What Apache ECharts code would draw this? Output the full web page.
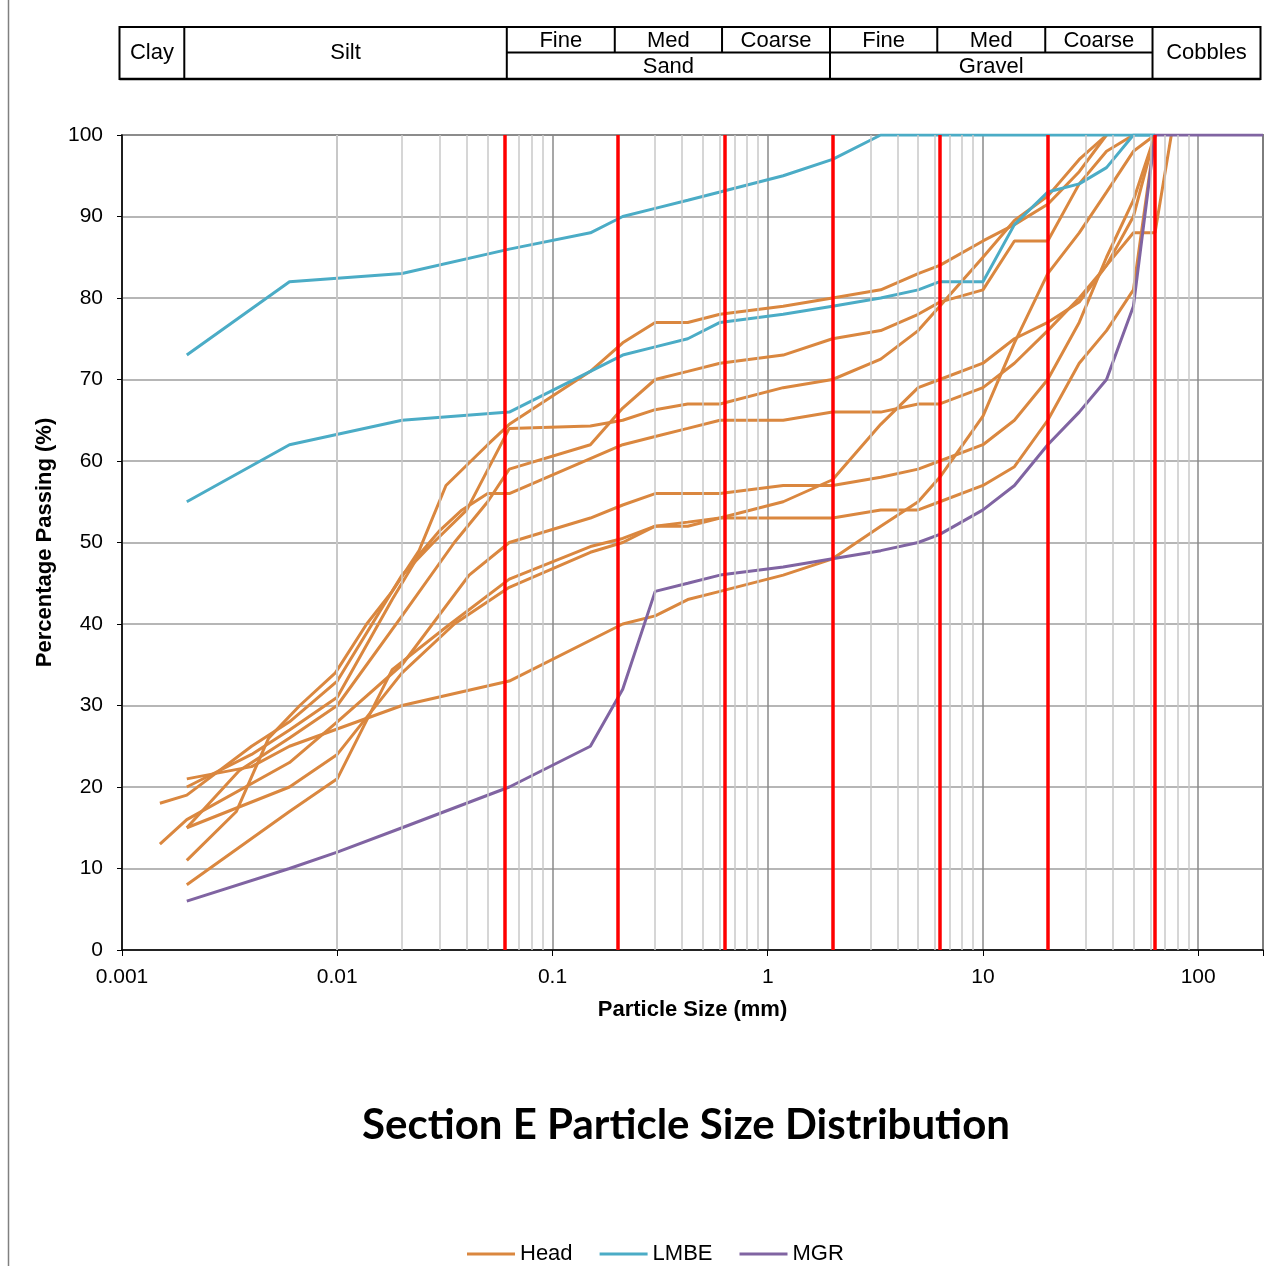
<!DOCTYPE html>
<html>
<head>
<meta charset="utf-8">
<script src="https://cdn.jsdelivr.net/npm/echarts@6/dist/echarts.min.js"></script>
<style>
  html, body { margin: 0; padding: 0; background: #fff; }
  #chart { width: 1279px; height: 1266px; }
</style>
</head>
<body>
<div id="chart"></div>
<script>
// particle size (mm) vs % passing, one array per test
const head1 = [[0.002,11],[0.0034,17],[0.0048,26],[0.0067,30],[0.0098,34],[0.0137,40],[0.018,44],[0.024,49],[0.032,57],[0.05,62],[0.063,64.5],[0.15,71],[0.212,74.5],[0.3,77],[0.425,77],[0.6,78],[1.18,79],[2,80],[3.35,81],[5,83],[6.3,84],[10,87],[14,89],[20,91.5],[28,95.5],[37.5,100]];
const head2 = [[0.002,15],[0.0035,22],[0.006,26],[0.01,30],[0.02,41],[0.035,50],[0.05,55],[0.063,59],[0.15,62],[0.212,66.5],[0.3,70],[0.425,71],[0.6,72],[1.18,73],[2,75],[3.35,76],[5,78],[6.3,79.5],[10,81],[14,87],[20,87],[28,94],[37.5,98],[50,100]];
const head3 = [[0.0015,18],[0.002,19],[0.004,25],[0.006,28],[0.01,33],[0.02,46],[0.028,50],[0.04,54],[0.063,64],[0.15,64.3],[0.212,65],[0.3,66.3],[0.425,67],[0.6,67],[1.18,69],[2,70],[3.35,72.5],[5,76],[6.3,79],[10,85],[14,89.5],[20,92.5],[28,97],[37.5,100]];
const head4 = [[0.002,20],[0.004,24],[0.006,27],[0.01,31],[0.018,43],[0.024,48.5],[0.03,51.5],[0.038,54],[0.05,56],[0.063,56],[0.212,62],[0.3,63],[0.425,64],[0.6,65],[1.18,65],[2,66],[3.35,66],[5,67],[6.3,67],[10,69],[14,72],[20,76],[28,80],[37.5,84],[50,88],[63,88],[75,100]];
const head5 = [[0.0015,13],[0.002,16],[0.006,23],[0.01,28],[0.02,35],[0.041,46],[0.063,50],[0.15,53],[0.212,54.6],[0.3,56],[0.425,56],[0.6,56],[1.18,57],[2,57],[3.35,58],[5,59],[6.3,60],[10,62],[14,65],[20,70],[28,77],[37.5,85],[50,92],[63,100]];
const head6 = [[0.002,8],[0.006,17],[0.01,21],[0.018,34.4],[0.032,39.6],[0.063,45.5],[0.15,49.5],[0.212,50.5],[0.3,52],[0.425,52.5],[0.6,53],[1.18,53],[2,53],[3.35,54],[5,54],[6.3,55],[10,57],[14,59.3],[20,65],[28,72],[37.5,76],[50,81],[63,100]];
const head7 = [[0.002,15],[0.006,20],[0.01,24],[0.02,34],[0.035,40],[0.063,44.5],[0.15,48.8],[0.212,50],[0.3,52],[0.425,52],[0.6,53],[1.18,55],[2,57.7],[3.35,64.5],[5,69],[6.3,70],[10,72],[14,75],[20,77],[28,79.5],[37.5,84],[50,90],[63,100]];
const head8 = [[0.002,21],[0.004,22.5],[0.006,25],[0.02,30],[0.063,33],[0.212,40],[0.3,41],[0.425,43],[0.6,44],[1.18,46],[2,48],[3.35,52],[5,55],[6.3,58],[10,65.5],[14,74.5],[20,83],[28,88],[37.5,93],[50,98],[63,100]];
const lmbe1 = [[0.002,73],[0.006,82],[0.02,83],[0.063,86],[0.15,88],[0.212,90],[0.3,91],[0.425,92],[0.6,93],[1.18,95],[2,97],[3.35,100],[63,100]];
const lmbe2 = [[0.002,55],[0.006,62],[0.02,65],[0.063,66],[0.15,71],[0.212,73],[0.3,74],[0.425,75],[0.6,77],[1.18,78],[2,79],[3.35,80],[5,81],[6.3,82],[10,82],[14,89],[20,93],[28,94],[37.5,96],[50,100],[63,100]];
const mgr = [[0.002,6],[0.006,10],[0.01,12],[0.02,15],[0.063,20],[0.15,25],[0.212,32],[0.3,44],[0.425,45],[0.6,46],[1.18,47],[2,48],[3.35,49],[5,50],[6.3,51],[10,54],[14,57],[20,62],[28,66],[37.5,70],[50,79],[63,100],[75,100],[200,100]];

const headRuns = [head1, head2, head3, head4, head5, head6, head7, head8];
const lmbeRuns = [lmbe1, lmbe2];
const mgrRuns = [mgr];

// BS 5930 size boundaries and header labels
const boundaries = [0.002, 0.063, 0.2, 0.63, 2, 6.3, 20, 63];
const bandSingle = [['Clay', 0.001, 0.002], ['Silt', 0.002, 0.063], ['Cobbles', 63, 200]];
const bandGroup = [['Sand', 0.063, 2], ['Gravel', 2, 63]];
const bandSub = [['Fine', 0.063, 0.2], ['Med', 0.2, 0.63], ['Coarse', 0.63, 2],
                 ['Fine', 2, 6.3], ['Med', 6.3, 20], ['Coarse', 20, 63]];
const xTickLabels = ['0.001', '0.01', '0.1', '1', '10', '100'];

const COLORS = { Head: '#DA873F', LMBE: '#4BACC6', MGR: '#8064A2' };
const FONT = '"Liberation Sans", Arial, sans-serif';

// light minor lines at 2..9 of every decade
const minorX = [];
for (let d = 0.001; d < 100; d *= 10) {
  for (let k = 2; k <= 9; k++) minorX.push(+(k * d).toPrecision(3));
}

function runSeries(name, runs) {
  return runs.map(r => ({
    name, type: 'line', data: r, z: 3,
    showSymbol: false, symbol: 'none',
    lineStyle: { color: COLORS[name], width: 3 },
    itemStyle: { color: COLORS[name] },
    emphasis: { disabled: true },
  }));
}

const chart = echarts.init(document.getElementById('chart'), null, { renderer: 'canvas' });

const option = {
  animation: false,
  backgroundColor: '#fff',
  grid: {
    left: 122, top: 135, width: 1141, height: 815,
    show: true, borderColor: '#202020', borderWidth: 1.5,
    outerBoundsMode: 'none',
  },
  xAxis: {
    type: 'log', logBase: 10, min: 0.001, max: 200,
    name: 'Particle Size (mm)', nameLocation: 'middle', nameGap: 49,
    nameTextStyle: { fontSize: 22, fontWeight: 'bold', fontFamily: FONT, color: '#000' },
    axisLine: { show: true, lineStyle: { color: '#000', width: 1.5 } },
    axisTick: { show: true, length: 6, lineStyle: { color: '#000' } },
    axisLabel: {
      margin: 17, fontSize: 21, fontFamily: FONT, color: '#000',
      formatter: v => xTickLabels.find(s => Math.abs(parseFloat(s) - v) / v < 1e-6) || '',
    },
    splitLine: { show: true, lineStyle: { color: '#8a8a8a', width: 1.5 } },
  },
  yAxis: {
    type: 'value', min: 0, max: 100, interval: 10,
    name: 'Percentage Passing (%)', nameLocation: 'middle', nameGap: 66, nameRotate: 90,
    nameTextStyle: { fontSize: 22, fontWeight: 'bold', fontFamily: FONT, color: '#000' },
    axisLine: { show: true, lineStyle: { color: '#000', width: 1.5 } },
    axisTick: { show: true, length: 5, lineStyle: { color: '#000' } },
    axisLabel: { margin: 19, fontSize: 21, fontFamily: FONT, color: '#000' },
    splitLine: { show: true, lineStyle: { color: '#9e9e9e', width: 1.5 } },
  },
  legend: {
    data: ['Head', 'LMBE', 'MGR'],
    left: 467, top: 1243, padding: 0,
    icon: 'rect', itemWidth: 48, itemHeight: 3, itemGap: 27,
    textStyle: { fontSize: 22, fontFamily: FONT, color: '#000' },
  },
  series: [
    {
      name: 'minor', type: 'line', data: [], silent: true, z: 1,
      markLine: {
        silent: true, symbol: ['none', 'none'], label: { show: false },
        lineStyle: { color: '#c8c8c8', width: 1.5, type: 'solid' },
        emphasis: { disabled: true },
        data: minorX.map(v => ({ xAxis: v })),
      },
    },
    ...runSeries('Head', headRuns),
    ...runSeries('LMBE', lmbeRuns),
    ...runSeries('MGR', mgrRuns),
    {
      name: 'bounds', type: 'line', data: [], silent: true, z: 6,
      markLine: {
        silent: true, symbol: ['none', 'none'], label: { show: false },
        lineStyle: { color: '#ff0000', width: 3.5, type: 'solid' },
        emphasis: { disabled: true },
        data: boundaries.map(v => ({ xAxis: v })),
      },
    },
  ],
};

chart.setOption(option);

// header table sits on the same x scale as the plot
const edge = v => chart.convertToPixel({ xAxisIndex: 0 }, v) - 2.5;
const T0 = 27, TM = 52.5, T1 = 79;
const line = (x1, y1, x2, y2, w) => ({
  type: 'line', z: 10,
  shape: { x1, y1, x2, y2 },
  style: { stroke: '#000', lineWidth: w || 2 },
});
const label = (text, x, y) => ({
  type: 'text', z: 11,
  x, y,
  style: { text, fill: '#000', font: '22px ' + FONT, align: 'center', verticalAlign: 'middle' },
});

const g = [];
g.push({
  type: 'rect', z: 9,
  shape: { x: edge(0.001), y: T0, width: edge(200) - edge(0.001), height: T1 - T0 },
  style: { fill: '#fff', stroke: '#000', lineWidth: 2 },
});
g.push(line(edge(0.001), T1, edge(200), T1, 2.5));
[0.002, 0.063, 2, 63].forEach(b => g.push(line(edge(b), T0, edge(b), T1)));
[0.2, 0.63, 6.3, 20].forEach(b => g.push(line(edge(b), T0, edge(b), TM)));
g.push(line(edge(0.063), TM, edge(63), TM));
bandSingle.forEach(([t, a, b]) => g.push(label(t, (edge(a) + edge(b)) / 2, (T0 + T1) / 2)));
bandGroup.forEach(([t, a, b]) => g.push(label(t, (edge(a) + edge(b)) / 2, (TM + T1) / 2 + 1)));
bandSub.forEach(([t, a, b]) => g.push(label(t, (edge(a) + edge(b)) / 2, (T0 + TM) / 2 + 1)));

// page frame edge and chart title
g.push({ type: 'line', z: 10, shape: { x1: 8.5, y1: 0, x2: 8.5, y2: 1266 }, style: { stroke: '#808080', lineWidth: 1.5 } });
g.push({
  type: 'text', z: 11, x: 686, y: 1125,
  style: {
    text: 'Section E Particle Size Distribution', fill: '#000',
    font: 'bold 42px Lato, "Open Sans", sans-serif', align: 'center', verticalAlign: 'middle',
  },
});

chart.setOption({ graphic: g });
</script>
</body>
</html>
